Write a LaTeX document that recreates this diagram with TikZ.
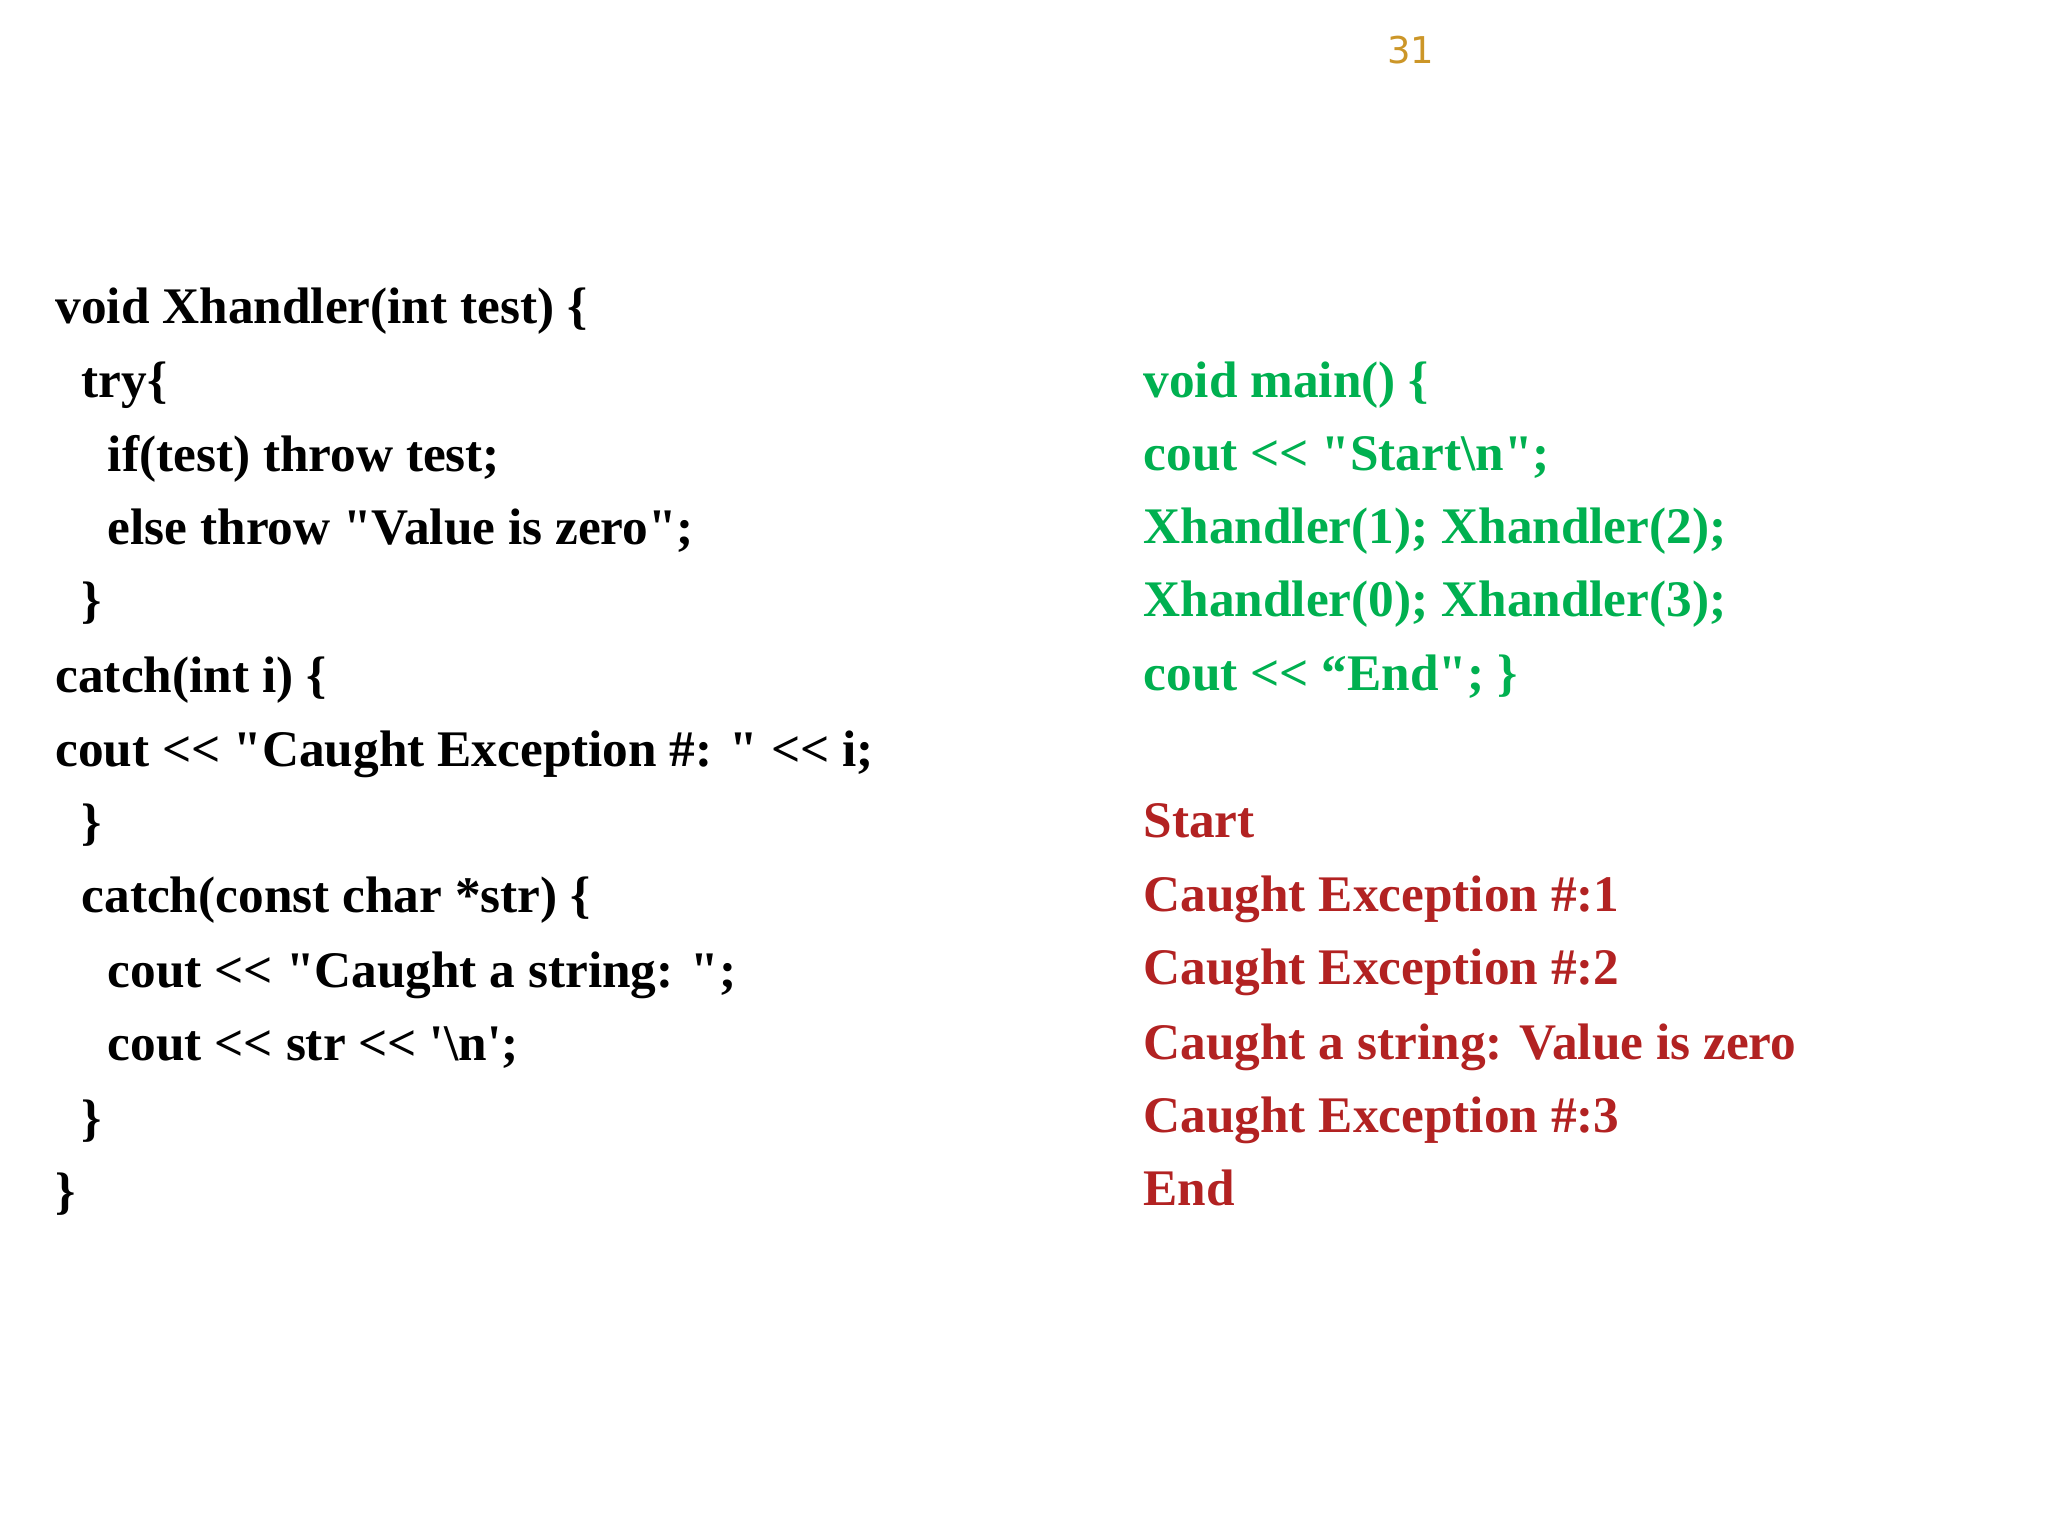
\documentclass[tikz,border=0pt]{standalone}
\usepackage{fontspec}
\newfontfamily\cf{Liberation Serif}
\newfontfamily\pf{DejaVu Sans}
\definecolor{grn}{RGB}{0,176,80}
\definecolor{rd}{RGB}{178,34,34}
\definecolor{gold}{RGB}{204,150,40}
\begin{document}
\begin{tikzpicture}[x=0.01306cm,y=-0.01306cm,
  code/.style={anchor=base west,inner sep=0pt,font=\cf\fontsize{14.6}{18}\selectfont\bfseries}]
\useasboundingbox (0,0) rectangle (1568,1176);
\node[anchor=center,text=gold,font=\pf\fontsize{10.5}{12}\selectfont] (pg) at (1080,38) {31};
\node[code] (l1) at (42,248) {void Xhandler(int test) \{};
\node[code] (l2) at (62,304) {try\{};
\node[code] (l3) at (82,361) {if(test) throw test;};
\node[code] (l4) at (82,417) {else throw "Value is zero";};
\node[code] (l5) at (62,473) {\}};
\node[code] (l6) at (42,530) {catch(int i) \{};
\node[code] (l7) at (42,587) {cout << "Caught Exception \#: " << i;};
\node[code] (l8) at (62,643) {\}};
\node[code] (l9) at (62,699) {catch(const char *str) \{};
\node[code] (l10) at (82,756) {cout << "Caught a string: ";};
\node[code] (l11) at (82,812) {cout << str << '\textbackslash n';};
\node[code] (l12) at (62,869) {\}};
\node[code] (l13) at (42,925) {\}};
\begin{scope}[every node/.append style={text=grn}]
\node[code] (m1) at (875,304) {void main() \{};
\node[code] (m2) at (875,360) {cout << "Start\textbackslash n";};
\node[code] (m3) at (875,416) {Xhandler(1); Xhandler(2);};
\node[code] (m4) at (875,472) {Xhandler(0); Xhandler(3);};
\node[code] (m5) at (875,529) {cout << “End"; \}};
\end{scope}
\begin{scope}[every node/.append style={text=rd}]
\node[code] (o1) at (875,641) {Start};
\node[code] (o2) at (875,698) {Caught Exception \#:1};
\node[code] (o3) at (875,754) {Caught Exception \#:2};
\node[code] (o4) at (875,811) {Caught a string: Value is zero};
\node[code] (o5) at (875,867) {Caught Exception \#:3};
\node[code] (o6) at (875,923) {End};
\end{scope}
\end{tikzpicture}
\end{document}
